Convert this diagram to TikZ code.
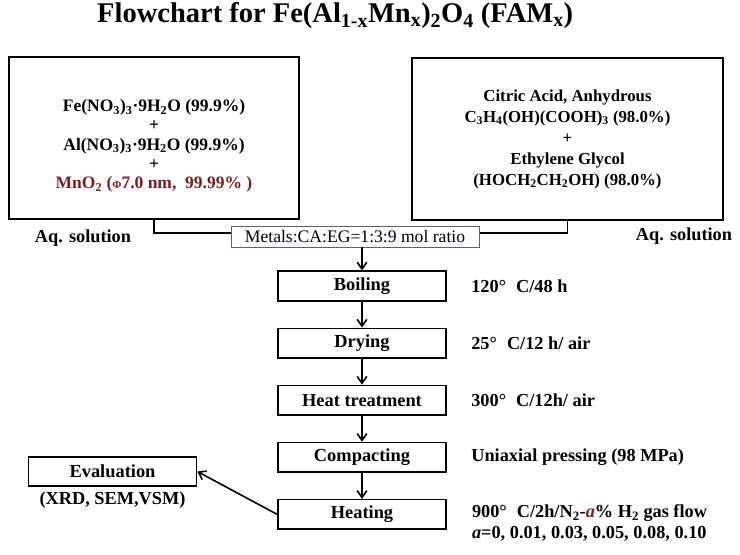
\documentclass[tikz,border=0pt]{standalone}
\usepackage{fontspec}
\setmainfont{Liberation Serif}
\usetikzlibrary{arrows.meta, positioning}
\definecolor{oxred}{HTML}{7F1E1E}
\definecolor{ratioframe}{HTML}{56607A}
\newcommand{\chsub}[1]{\textsubscript{#1}}
\newcommand{\degC}[1]{#1°\hspace{0.55em}C}
\tikzset{
  srcbox/.style={draw, line width=1.6pt, minimum height=162pt, align=center,
                 font=\bfseries\fontsize{17.5}{19.2}\selectfont},
  stepbox/.style={draw, line width=1.6pt, minimum width=168pt, minimum height=29.5pt,
                  font=\bfseries\fontsize{18.4}{20}\selectfont},
  ratiobox/.style={draw=ratioframe, fill=white, line width=0.6pt, minimum width=248pt,
                   minimum height=21pt, inner sep=1pt, font=\fontsize{17.6}{19}\selectfont},
  note/.style={font=\bfseries\fontsize{18.3}{21}\selectfont, align=left},
  flow/.style={line width=1.6pt, -{Straight Barb[length=2.4mm, width=3.4mm]}},
}
\begin{document}
\begin{tikzpicture}[x=1pt, y=1pt, node distance=26pt]
\useasboundingbox (0,0) rectangle (740,555);
\node[font=\bfseries\fontsize{28.5}{32}\selectfont, anchor=base west, inner sep=0pt] (title) at (97,532)
  {Flowchart for Fe(Al\chsub{1-x}Mn\chsub{x})\chsub{2}O\chsub{4} (FAM\chsub{x})};
\node[srcbox, minimum width=290pt] (metal) at (154,417)
  {\rule{0pt}{28pt}Fe(NO\chsub{3})\chsub{3}·9H\chsub{2}O (99.9\%)\\
   +\\
   Al(NO\chsub{3})\chsub{3}·9H\chsub{2}O (99.9\%)\\
   +\\
   \textcolor{oxred}{MnO\chsub{2} ({\fontsize{11}{11}\selectfont Φ}7.0 nm,\ \ 99.99\% )}};
\node[srcbox, minimum width=311pt, font=\bfseries\fontsize{16.8}{21}\selectfont] (chel) at (567.5,416)
  {Citric Acid, Anhydrous\\
   C\chsub{3}H\chsub{4}(OH)(COOH)\chsub{3} (98.0\%)\\
   +\\
   Ethylene Glycol\\
   (HOCH\chsub{2}CH\chsub{2}OH) (98.0\%)};
\draw[line width=1.6pt] (metal.south) -- ++(0,-13) -| (chel.south);
\node[ratiobox] (ratio) at (355,318.5) {Metals:CA:EG=1:3:9 mol ratio};
\node[note] (aql) at (83,317) {Aq. solution};
\node[note] (aqr) at (684,319) {Aq. solution};
\node[stepbox] (boil) at (362,269) {Boiling};
\node[stepbox, below=of boil] (dry) {Drying};
\node[stepbox, below=of dry] (heat) {Heat treatment};
\node[stepbox, below=of heat] (comp) {Compacting};
\node[stepbox, below=of comp] (sint) {Heating};
\node[stepbox] (eval) at (112.5,83.5) {Evaluation};
\node[note, below=1pt of eval] (evalnote) {(XRD, SEM,VSM)};
\node[note, right=21pt of boil] (cboil) {\degC{120}/48 h};
\node[note, right=21pt of dry] (cdry) {\degC{25}/12 h/ air};
\node[note, right=21pt of heat] (cheat) {\degC{300}/12h/ air};
\node[note, right=21pt of comp] (ccomp) {Uniaxial pressing (98 MPa)};
\node[note, anchor=north west, inner sep=0pt] (csint) at ([xshift=25pt, yshift=10pt]sint.east)
  {\degC{900}/2h/N\chsub{2}-\textcolor{oxred}{\textit{a}}\% H\chsub{2} gas flow\\
   \textit{a}=0, 0.01, 0.03, 0.05, 0.08, 0.10};
\draw[flow] (ratio.south -| boil.north) -- (boil);
\draw[flow] (boil) -- (dry);
\draw[flow] (dry) -- (heat);
\draw[flow] (heat) -- (comp);
\draw[flow] (comp) -- (sint);
\draw[flow] (sint.west) -- (eval.east);
\end{tikzpicture}
\end{document}
